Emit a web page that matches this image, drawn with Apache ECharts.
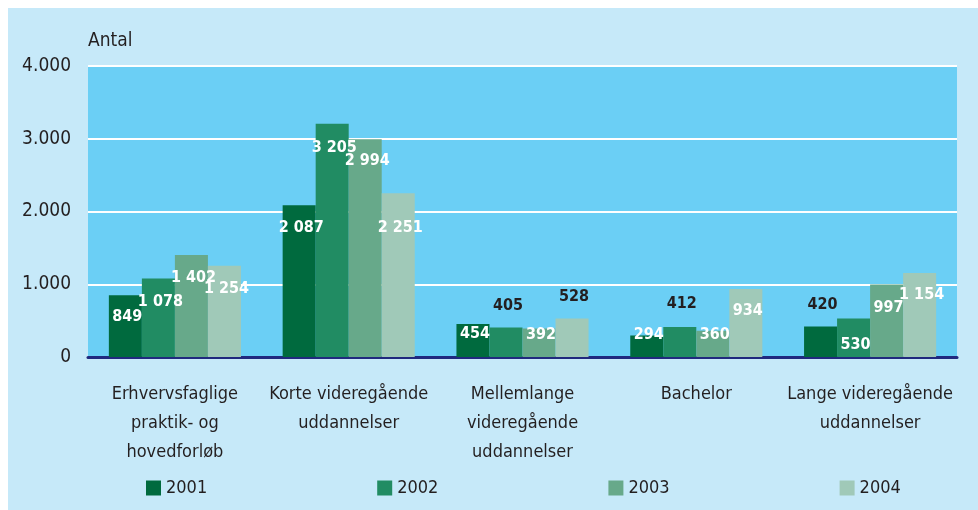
<!DOCTYPE html>
<html>
<head>
<meta charset="utf-8">
<script src="https://cdn.jsdelivr.net/npm/echarts@6/dist/echarts.min.js"></script>
<style>
  html, body { margin: 0; padding: 0; background: #ffffff; }
  #chart { width: 978px; height: 510px; }
</style>
</head>
<body>
<div id="chart"></div>
<script>
// kategorier og årstal
const CATEGORIES = [
  'Erhvervsfaglige\npraktik- og\nhovedforløb',
  'Korte videregående\nuddannelser',
  'Mellemlange\nvideregående\nuddannelser',
  'Bachelor',
  'Lange videregående\nuddannelser'
];
const YEARS = ['2001', '2002', '2003', '2004'];

// værdier pr. år
const V2001 = [849, 2087, 454, 294, 420];
const V2002 = [1078, 3205, 405, 412, 530];
const V2003 = [1402, 2994, 392, 360, 997];
const V2004 = [1254, 2251, 528, 934, 1154];

const Y_TICKS = ['0', '1.000', '2.000', '3.000', '4.000'];

// farver
const BAR_COLORS = ['#006a3e', '#218c63', '#67a98a', '#a0c9b8'];
// placering af værditekst målt fra søjlens top (negativ = over søjlen)
const LABEL_DY = [
  [22, 23, 10, -1, -22],
  [23, 24, -22, -23, 26],
  [23, 22, 6, 4, 23],
  [23, 35, -22, 22, 22]
];

const FONT = '"Liberation Sans Narrow", "DejaVu Sans Condensed", "Roboto", sans-serif';
const TEXT = '#231f20';

function fmt(v) {
  // tusindtalsseparator med mellemrum
  return String(v).replace(/\B(?=(\d{3})+(?!\d))/g, ' ');
}

function buildSeries(name, values, idx) {
  return {
    name: name,
    type: 'bar',
    barGap: '0%',
    barCategoryGap: '24%',
    itemStyle: { color: BAR_COLORS[idx] },
    data: values.map((v, i) => {
      const dy = LABEL_DY[idx][i];
      return {
        value: v,
        label: {
          show: true,
          position: ['50%', dy],
          offset: [2, 0],
          align: 'center',
          verticalAlign: 'middle',
          formatter: fmt(v),
          fontFamily: FONT,
          fontWeight: 'bold',
          fontSize: 16,
          color: dy < -5 ? TEXT : '#ffffff'
        }
      };
    })
  };
}

const chart = echarts.init(document.getElementById('chart'));
chart.setOption({
  backgroundColor: '#ffffff',
  animation: false,
  graphic: [{
    type: 'rect',
    z: -10,
    shape: { x: 8, y: 8, width: 970, height: 502 },
    style: { fill: '#c6e9f9' }
  }],
  title: {
    text: 'Antal',
    left: 83,
    top: 27,
    textStyle: { fontFamily: FONT, fontWeight: 'normal', fontSize: 19, color: TEXT }
  },
  legend: {
    data: YEARS,
    left: 141,
    top: 474,
    icon: 'rect',
    itemWidth: 15,
    itemHeight: 15,
    itemGap: 170,
    textStyle: { fontFamily: FONT, fontSize: 18, color: TEXT }
  },
  grid: {
    left: 88,
    right: 21,
    top: 66,
    bottom: 153,
    show: true,
    backgroundColor: '#6bcff5',
    borderWidth: 0
  },
  xAxis: {
    type: 'category',
    data: CATEGORIES,
    axisLine: { lineStyle: { color: '#20297e', width: 3 } },
    axisTick: { show: false },
    axisLabel: {
      interval: 0,
      margin: 23,
      fontFamily: FONT,
      fontSize: 18,
      lineHeight: 29,
      color: TEXT,
      verticalAlign: 'top'
    }
  },
  yAxis: {
    type: 'value',
    min: 0,
    max: 4000,
    interval: 1000,
    axisLine: { show: false },
    axisTick: { show: false },
    splitLine: { lineStyle: { color: '#ffffff', width: 2 } },
    axisLabel: {
      margin: 17,
      fontFamily: FONT,
      fontSize: 19,
      color: TEXT,
      formatter: (v, i) => Y_TICKS[i]
    }
  },
  series: [
    buildSeries(YEARS[0], V2001, 0),
    buildSeries(YEARS[1], V2002, 1),
    buildSeries(YEARS[2], V2003, 2),
    buildSeries(YEARS[3], V2004, 3)
  ]
});
</script>
</body>
</html>
